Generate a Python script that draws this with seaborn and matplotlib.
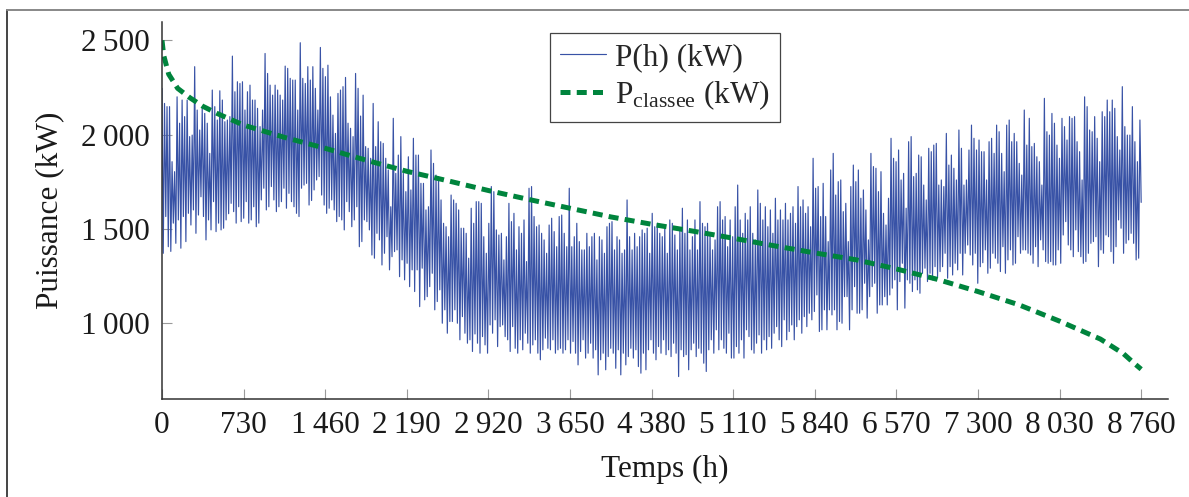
import numpy as np
import matplotlib
matplotlib.use("Agg")
import matplotlib.pyplot as plt
import seaborn as sns
from matplotlib.lines import Line2D

# ---- P(h): daily peaks / troughs, by stretch of the year ----
peaks_1 = [2245, 2165, 2148, 2148, 1856, 1803, 2200, 2060, 2183, 2095, 2183, 1989, 1997, 2360, 2130,
           2024, 2139, 2112, 2060, 1900, 2236, 2148, 2077, 2232, 2183, 2068, 2077, 2095, 2416, 2227,
           2280, 2271, 2280, 2130, 2227, 2262, 2183, 2183, 2139, 2042, 2130, 2430, 2324, 2262, 2209,
           2262, 2236, 2209, 2183, 2363, 2351, 2298, 2289, 2289, 2130, 2487, 2298, 2271, 2360, 2289]
troughs_1 = [1370, 1565, 1405, 1380, 1530, 1423, 1547, 1397, 1565, 1432, 1582, 1520, 1600, 1476, 1573,
             1670, 1565, 1441, 1547, 1494, 1644, 1485, 1530, 1494, 1503, 1547, 1580, 1635, 1591, 1530,
             1617, 1538, 1556, 1644, 1530, 1547, 1617, 1511, 1530, 1653, 1715, 1600, 1617, 1724, 1653,
             1591, 1617, 1644, 1715, 1609, 1688, 1644, 1617, 1582, 1565, 1715, 1732, 1741, 1626, 1650]
peaks_2 = [2360, 2245, 2130, 2462, 2351, 2307, 2368, 2200, 2103, 2006, 2218, 2236, 2254, 2303, 2060,
           2033, 1989, 2324, 2245, 2098, 2209, 1936, 1927, 1874, 2165, 1936, 2068, 1962, 1953, 1874,
           1812, 1617, 2086, 1794, 1891, 1989, 1794, 1697, 1882, 1706, 1980, 1891, 1891, 1741, 1741,
           1600, 1617, 1918, 1847, 1785, 1777, 1653, 1529, 1511, 1458, 1679, 1653, 1635, 1600, 1503,
           1503, 1476, 1344, 1609, 1529, 1644]
troughs_2 = [1706, 1759, 1777, 1679, 1626, 1582, 1609, 1653, 1600, 1538, 1565, 1547, 1494, 1644, 1591,
             1511, 1547, 1617, 1405, 1432, 1547, 1538, 1494, 1361, 1344, 1476, 1441, 1308, 1370, 1458,
             1282, 1352, 1379, 1388, 1246, 1335, 1229, 1317, 1193, 1282, 1167, 1282, 1087, 1291, 1123,
             1140, 1193, 1264, 1070, 1114, 1176, 999, 1070, 946, 1008, 1008, 1070, 999, 911, 1034,
             946, 893, 911, 849, 942, 893]
peaks_3 = [1644, 1635, 1458, 1370, 1529, 1724, 1697, 1494, 1467, 1476, 1335, 1458, 1635, 1538, 1582,
           1388, 1511, 1476, 1547, 1326, 1715, 1724, 1565, 1511, 1520, 1476, 1441, 1370, 1520, 1556,
           1485, 1405, 1565, 1573, 1476, 1405, 1715, 1405, 1458, 1529, 1432, 1388, 1388, 1476, 1405,
           1458, 1476, 1335, 1458, 1441, 1370, 1511, 1529, 1538, 1388, 1458, 1441, 1370, 1388, 1653,
           1458, 1388, 1476, 1405, 1458, 1494, 1476]
troughs_3 = [840, 928, 884, 840, 990, 946, 1017, 875, 981, 990, 928, 911, 849, 981, 866,
             840, 911, 858, 946, 893, 840, 884, 911, 840, 805, 858, 920, 866, 858, 911,
             840, 858, 866, 840, 858, 911, 840, 902, 840, 778, 849, 911, 814, 840, 893,
             814, 858, 725, 805, 840, 752, 822, 866, 840, 760, 858, 725, 840, 778, 822,
             866, 814, 858, 769, 734, 840, 752]
peaks_4 = [1503, 1370, 1582, 1511, 1529, 1476, 1458, 1503, 1370, 1547, 1529, 1467, 1388, 1503, 1609,
           1476, 1547, 1388, 1458, 1547, 1388, 1644, 1529, 1511, 1529, 1476, 1388, 1441, 1617, 1644,
           1547, 1565, 1405, 1547, 1458, 1617, 1732, 1547, 1476, 1582, 1547, 1617, 1476, 1441, 1706,
           1635, 1547, 1617, 1511, 1600, 1476, 1662, 1547, 1600, 1547, 1635, 1547, 1582, 1617, 1529,
           1724, 1617, 1653, 1582, 1617, 1511]
troughs_4 = [858, 911, 840, 805, 875, 840, 911, 832, 858, 822, 893, 840, 716, 858, 822,
             832, 752, 858, 893, 822, 866, 840, 787, 743, 858, 911, 840, 964, 858, 911,
             866, 840, 946, 814, 814, 875, 840, 911, 814, 964, 928, 858, 840, 893, 937,
             840, 911, 858, 928, 866, 946, 981, 911, 875, 1017, 911, 955, 990, 911, 981,
             1017, 946, 1034, 981, 1052, 1017]
peaks_5 = [1874, 1715, 1724, 1565, 1741, 1565, 1432, 1812, 1900, 1679, 1750, 1759, 1591, 1635, 1432,
           1724, 1838, 1750, 1812, 1662, 1706, 1600, 1441, 1900, 1830, 1821, 1697, 1803, 1582, 1520,
           1662, 1980, 1874, 1856, 1918, 1759, 1794, 1609, 1962, 1989, 1777, 1794, 1891, 1882, 1732,
           1653, 1927, 1909, 1944, 1953, 1732, 1759, 1724, 2006, 1838, 1891, 1821, 1759, 2024, 1927,
           1732, 1759, 1918, 2050, 1980, 1918, 1971, 1909]
troughs_5 = [1061, 1149, 955, 964, 1070, 964, 1070, 1043, 1070, 964, 1008, 999, 1140, 1140, 964,
             1070, 1193, 1052, 1052, 1070, 1211, 1026, 1140, 1193, 1211, 1052, 1096, 1096, 1140, 1096,
             1149, 1185, 1229, 1070, 1220, 1317, 1079, 1229, 1211, 1167, 1229, 1176, 1158, 1264, 1291,
             1220, 1264, 1229, 1299, 1246, 1273, 1299, 1370, 1238, 1299, 1255, 1317, 1282, 1370, 1255,
             1370, 1414, 1361, 1308, 1370, 1211, 1299, 1320]
peaks_6 = [1909, 1759, 1962, 1980, 1900, 2050, 2015, 1900, 1803, 2050, 2077, 1962, 2006, 1962, 1847,
           1785, 2130, 1944, 2086, 1936, 1953, 1882, 1856, 1732, 2192, 2015, 1997, 2112, 2060, 1944,
           1874, 2086, 2042, 1971, 2095, 2086, 2095, 1962, 1909, 1759, 2200, 2148, 2024, 2015, 2095,
           1980, 1856, 2121, 2095, 2183, 2121, 2183, 2139, 1989, 1918, 2254, 2042, 1997, 1997, 2148,
           1962, 1856, 2077]
troughs_6 = [1388, 1264, 1291, 1370, 1344, 1317, 1273, 1405, 1264, 1335, 1388, 1308, 1317, 1458, 1370,
             1388, 1388, 1370, 1361, 1317, 1405, 1299, 1441, 1388, 1326, 1317, 1326, 1308, 1308, 1388,
             1317, 1467, 1538, 1414, 1388, 1352, 1494, 1379, 1352, 1317, 1326, 1370, 1423, 1432, 1458,
             1299, 1388, 1370, 1467, 1458, 1379, 1317, 1405, 1547, 1503, 1370, 1423, 1441, 1476, 1423,
             1335, 1344, 1640]

# ---- P classee (load duration curve) ----
classee_hours = [0, 15, 60, 140, 250, 365, 500, 730, 1095, 1460, 1825, 2190, 2555, 2920, 3285, 3650,
                 4015, 4380, 4745, 5110, 5475, 5840, 6205, 6570, 6935, 7300, 7665, 8030, 8395, 8600,
                 8700, 8760]
classee_values = [2500, 2420, 2320, 2245, 2195, 2150, 2110, 2050, 1985, 1927, 1864, 1805, 1755, 1703,
                  1655, 1609, 1563, 1524, 1488, 1450, 1410, 1372, 1336, 1287, 1232, 1167, 1097, 1010,
                  915, 838, 785, 755]

x_ticks = [0, 730, 1460, 2190, 2920, 3650, 4380, 5110, 5840, 6570, 7300, 8030, 8760]
x_tick_labels = ["0", "730", "1\u2009460", "2\u2009190", "2\u2009920", "3\u2009650", "4\u2009380",
                 "5\u2009110", "5\u2009840", "6\u2009570", "7\u2009300", "8\u2009030", "8\u2009760"]
y_ticks = [1000, 1500, 2000, 2500]
y_tick_labels = ["1\u2009000", "1\u2009500", "2\u2009000", "2\u2009500"]

# ---- build series ----
segments = [(peaks_1, troughs_1), (peaks_2, troughs_2), (peaks_3, troughs_3),
            (peaks_4, troughs_4), (peaks_5, troughs_5), (peaks_6, troughs_6)]
series = []
for p, t in segments:
    n = min(len(p), len(t))
    for i in range(n):
        series.append(p[i])
        series.append(t[i])
series = np.array(series, dtype=float)
hours = np.linspace(0, 8760, len(series))

sns.set_style("ticks")
plt.rcParams["font.family"] = ["Liberation Serif", "DejaVu Serif"]
plt.rcParams["mathtext.fontset"] = "custom"
plt.rcParams["mathtext.rm"] = "Liberation Serif"
plt.rcParams["mathtext.it"] = "Liberation Serif:italic"

FS = 22.5
W, H = 1189, 497
fig = plt.figure(figsize=(W / 100, H / 100), dpi=100)
ax = fig.add_axes([162 / W, (H - 399) / H, (1168 - 162) / W, (399 - 22) / H])

sns.lineplot(x=hours, y=series, ax=ax, color="#3852a6", linewidth=0.85, label="P(h) (kW)")
sns.lineplot(x=classee_hours, y=classee_values, ax=ax, color="#00843d", linewidth=3.6,
             label=r"P$_{\mathrm{classee}}$ (kW)")
ax.lines[-1].set_linestyle((0, (2.0, 1.25)))
ax.lines[-1].set_dash_capstyle("butt")

ax.set_xlim(0, 9000)
ax.set_ylim(597, 2597)
ax.set_xticks(x_ticks)
ax.set_xticklabels(x_tick_labels)
ax.set_yticks(y_ticks)
ax.set_yticklabels(y_tick_labels)
ax.tick_params(direction="in", length=7.5, width=0.8, color="#9a9a9a", labelsize=FS,
               labelcolor="#1a1a1a")
ax.tick_params(axis="x", pad=8.5)
ax.tick_params(axis="y", pad=9)
for s in ["top", "right"]:
    ax.spines[s].set_visible(False)
for s in ["left", "bottom"]:
    ax.spines[s].set_color("#333333")
    ax.spines[s].set_linewidth(1.1)

ax.set_xlabel("Temps (h)", fontsize=FS, color="#1a1a1a", labelpad=11)
ax.set_ylabel("Puissance (kW)", fontsize=FS, color="#1a1a1a", labelpad=12)

leg = ax.legend(loc="upper center", bbox_to_anchor=(0.5, 1 - 11 / 377), borderaxespad=0,
                fontsize=FS, frameon=True, fancybox=False, edgecolor="#444444", framealpha=1,
                handlelength=1.45, handletextpad=0.3, labelspacing=0.18, borderpad=0.33)
leg.get_frame().set_linewidth(0.9)

# figure frame (left and top edges visible)
fig.add_artist(Line2D([7 / W, 7 / W], [0, 1 - 10 / H], transform=fig.transFigure,
                      color="#444444", linewidth=1.4))
fig.add_artist(Line2D([7 / W, 1], [1 - 10 / H, 1 - 10 / H], transform=fig.transFigure,
                      color="#888888", linewidth=1.4))

fig.savefig("out.png", dpi=100)
